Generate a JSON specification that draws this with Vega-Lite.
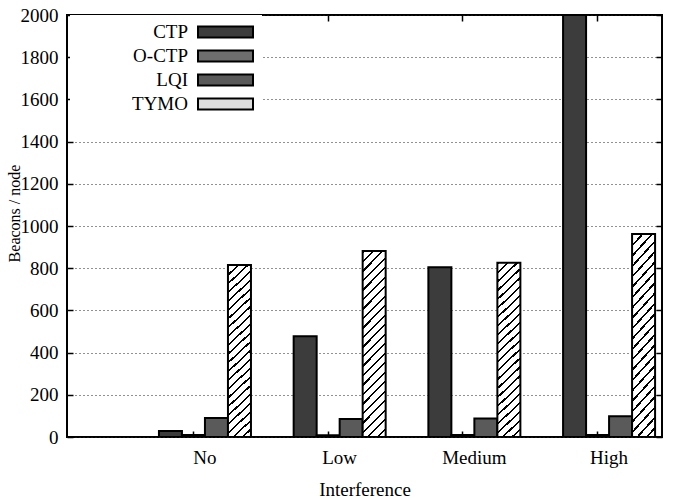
{
  "$schema": "https://vega.github.io/schema/vega-lite/v6.json",
  "width": 595,
  "height": 422,
  "autosize": {"type": "none"},
  "padding": {"left": 67, "top": 15, "right": 11, "bottom": 63},
  "background": "white",
  "config": {
    "view": {"stroke": "black", "strokeWidth": 2},
    "font": "Liberation Serif",
    "axis": {"labelFont": "Liberation Serif", "labelFontSize": 19, "labelColor": "black", "titleFont": "Liberation Serif", "titleFontSize": 19, "titleFontWeight": "normal", "titleColor": "black", "domain": false, "tickColor": "black", "tickWidth": 1.5}
  },
  "data": {
    "values": [
      {"Interference": "No", "Protocol": "CTP", "Beacons": 28},
      {"Interference": "No", "Protocol": "O-CTP", "Beacons": 10},
      {"Interference": "No", "Protocol": "LQI", "Beacons": 90},
      {"Interference": "No", "Protocol": "TYMO", "Beacons": 815},
      {"Interference": "Low", "Protocol": "CTP", "Beacons": 478},
      {"Interference": "Low", "Protocol": "O-CTP", "Beacons": 8},
      {"Interference": "Low", "Protocol": "LQI", "Beacons": 85},
      {"Interference": "Low", "Protocol": "TYMO", "Beacons": 881},
      {"Interference": "Medium", "Protocol": "CTP", "Beacons": 804},
      {"Interference": "Medium", "Protocol": "O-CTP", "Beacons": 10},
      {"Interference": "Medium", "Protocol": "LQI", "Beacons": 88},
      {"Interference": "Medium", "Protocol": "TYMO", "Beacons": 826},
      {"Interference": "High", "Protocol": "CTP", "Beacons": 2000},
      {"Interference": "High", "Protocol": "O-CTP", "Beacons": 10},
      {"Interference": "High", "Protocol": "LQI", "Beacons": 98},
      {"Interference": "High", "Protocol": "TYMO", "Beacons": 962}
    ]
  },
  "layer": [
    {
      "mark": {"type": "bar", "stroke": "black", "strokeWidth": 2, "clip": true},
      "encoding": {
        "x": {"field": "Interference", "type": "nominal", "sort": ["No", "Low", "Medium", "High"],
          "scale": {"paddingInner": 0.317, "paddingOuter": 0.367, "align": 0.93},
          "axis": {"title": "Interference", "labelAngle": 0, "offset": -6, "tickSize": 6, "labelPadding": 11, "bandPosition": 0.375, "titlePadding": 13}},
        "xOffset": {"field": "Protocol", "type": "nominal", "sort": ["CTP", "O-CTP", "LQI", "TYMO"], "scale": {"paddingInner": 0, "paddingOuter": 0}},
        "y": {"field": "Beacons", "type": "quantitative", "scale": {"domain": [0, 2000], "nice": false},
          "axis": {"title": "Beacons / node", "format": "d", "values": [0, 200, 400, 600, 800, 1000, 1200, 1400, 1600, 1800, 2000], "offset": -6, "tickSize": 6, "labelPadding": 9, "grid": true, "gridDash": [1, 3], "gridColor": "#222", "gridWidth": 1, "titleFontSize": 16, "titleX": -59, "titleY": 198, "titleAngle": 270, "titleAlign": "center", "titleBaseline": "middle"}},
        "fill": {"field": "Protocol", "type": "nominal", "sort": ["CTP", "O-CTP", "LQI", "TYMO"],
          "scale": {"domain": ["CTP", "O-CTP", "LQI", "TYMO"], "range": ["#3c3c3c", "#6e6e6e", "#5a5a5a", "#dcdcdc"]},
          "condition": {"test": "datum.Protocol === 'TYMO'", "value":
            {"gradient": "linear", "x1": 0, "y1": 0, "x2": 0.138, "y2": 1.107, "stops": [
              {"offset": 0, "color": "#000"}, {"offset": 0.011, "color": "#000"}, {"offset": 0.011, "color": "#fff"}, {"offset": 0.04545, "color": "#fff"},
              {"offset": 0.04545, "color": "#000"}, {"offset": 0.05645, "color": "#000"}, {"offset": 0.05645, "color": "#fff"}, {"offset": 0.09091, "color": "#fff"},
              {"offset": 0.09091, "color": "#000"}, {"offset": 0.10191, "color": "#000"}, {"offset": 0.10191, "color": "#fff"}, {"offset": 0.13636, "color": "#fff"},
              {"offset": 0.13636, "color": "#000"}, {"offset": 0.14736, "color": "#000"}, {"offset": 0.14736, "color": "#fff"}, {"offset": 0.18182, "color": "#fff"},
              {"offset": 0.18182, "color": "#000"}, {"offset": 0.19282, "color": "#000"}, {"offset": 0.19282, "color": "#fff"}, {"offset": 0.22727, "color": "#fff"},
              {"offset": 0.22727, "color": "#000"}, {"offset": 0.23827, "color": "#000"}, {"offset": 0.23827, "color": "#fff"}, {"offset": 0.27273, "color": "#fff"},
              {"offset": 0.27273, "color": "#000"}, {"offset": 0.28373, "color": "#000"}, {"offset": 0.28373, "color": "#fff"}, {"offset": 0.31818, "color": "#fff"},
              {"offset": 0.31818, "color": "#000"}, {"offset": 0.32918, "color": "#000"}, {"offset": 0.32918, "color": "#fff"}, {"offset": 0.36364, "color": "#fff"},
              {"offset": 0.36364, "color": "#000"}, {"offset": 0.37464, "color": "#000"}, {"offset": 0.37464, "color": "#fff"}, {"offset": 0.40909, "color": "#fff"},
              {"offset": 0.40909, "color": "#000"}, {"offset": 0.42009, "color": "#000"}, {"offset": 0.42009, "color": "#fff"}, {"offset": 0.45455, "color": "#fff"},
              {"offset": 0.45455, "color": "#000"}, {"offset": 0.46555, "color": "#000"}, {"offset": 0.46555, "color": "#fff"}, {"offset": 0.5, "color": "#fff"},
              {"offset": 0.5, "color": "#000"}, {"offset": 0.511, "color": "#000"}, {"offset": 0.511, "color": "#fff"}, {"offset": 0.54545, "color": "#fff"},
              {"offset": 0.54545, "color": "#000"}, {"offset": 0.55645, "color": "#000"}, {"offset": 0.55645, "color": "#fff"}, {"offset": 0.59091, "color": "#fff"},
              {"offset": 0.59091, "color": "#000"}, {"offset": 0.60191, "color": "#000"}, {"offset": 0.60191, "color": "#fff"}, {"offset": 0.63636, "color": "#fff"},
              {"offset": 0.63636, "color": "#000"}, {"offset": 0.64736, "color": "#000"}, {"offset": 0.64736, "color": "#fff"}, {"offset": 0.68182, "color": "#fff"},
              {"offset": 0.68182, "color": "#000"}, {"offset": 0.69282, "color": "#000"}, {"offset": 0.69282, "color": "#fff"}, {"offset": 0.72727, "color": "#fff"},
              {"offset": 0.72727, "color": "#000"}, {"offset": 0.73827, "color": "#000"}, {"offset": 0.73827, "color": "#fff"}, {"offset": 0.77273, "color": "#fff"},
              {"offset": 0.77273, "color": "#000"}, {"offset": 0.78373, "color": "#000"}, {"offset": 0.78373, "color": "#fff"}, {"offset": 0.81818, "color": "#fff"},
              {"offset": 0.81818, "color": "#000"}, {"offset": 0.82918, "color": "#000"}, {"offset": 0.82918, "color": "#fff"}, {"offset": 0.86364, "color": "#fff"},
              {"offset": 0.86364, "color": "#000"}, {"offset": 0.87464, "color": "#000"}, {"offset": 0.87464, "color": "#fff"}, {"offset": 0.90909, "color": "#fff"},
              {"offset": 0.90909, "color": "#000"}, {"offset": 0.92009, "color": "#000"}, {"offset": 0.92009, "color": "#fff"}, {"offset": 0.95455, "color": "#fff"},
              {"offset": 0.95455, "color": "#000"}, {"offset": 0.96555, "color": "#000"}, {"offset": 0.96555, "color": "#fff"}, {"offset": 1, "color": "#fff"}
            ]}},
          "legend": {"orient": "none", "legendX": 3, "legendY": 0, "title": null, "fillColor": "white", "padding": 5, "rowPadding": 2,
            "symbolType": "M-2.5,-0.5H2.5V0.5H-2.5Z", "symbolSize": 484, "symbolStrokeColor": "black", "symbolStrokeWidth": 2, "symbolOpacity": 1,
            "labelAlign": "right", "labelOffset": -49.5, "symbolOffset": 138.5, "labelFont": "Liberation Serif", "labelFontSize": 19, "labelColor": "black",
            "encode": {"symbols": {"update": {"stroke": {"value": "black"}, "strokeWidth": {"value": 2}}}}}}
      }
    },
    {
      "mark": {"type": "bar", "opacity": 0},
      "encoding": {
        "x": {"field": "Interference", "type": "nominal", "sort": ["No", "Low", "Medium", "High"],
          "axis": {"orient": "top", "title": null, "labels": false, "offset": -6, "tickSize": 6, "bandPosition": 0.375, "grid": false}},
        "xOffset": {"field": "Protocol", "type": "nominal", "sort": ["CTP", "O-CTP", "LQI", "TYMO"]},
        "y": {"field": "Beacons", "type": "quantitative",
          "axis": {"orient": "right", "title": null, "labels": false, "values": [0, 200, 400, 600, 800, 1000, 1200, 1400, 1600, 1800, 2000], "offset": -6, "tickSize": 6, "grid": false}}
      }
    }
  ],
  "resolve": {"axis": {"x": "independent", "y": "independent"}}
}
